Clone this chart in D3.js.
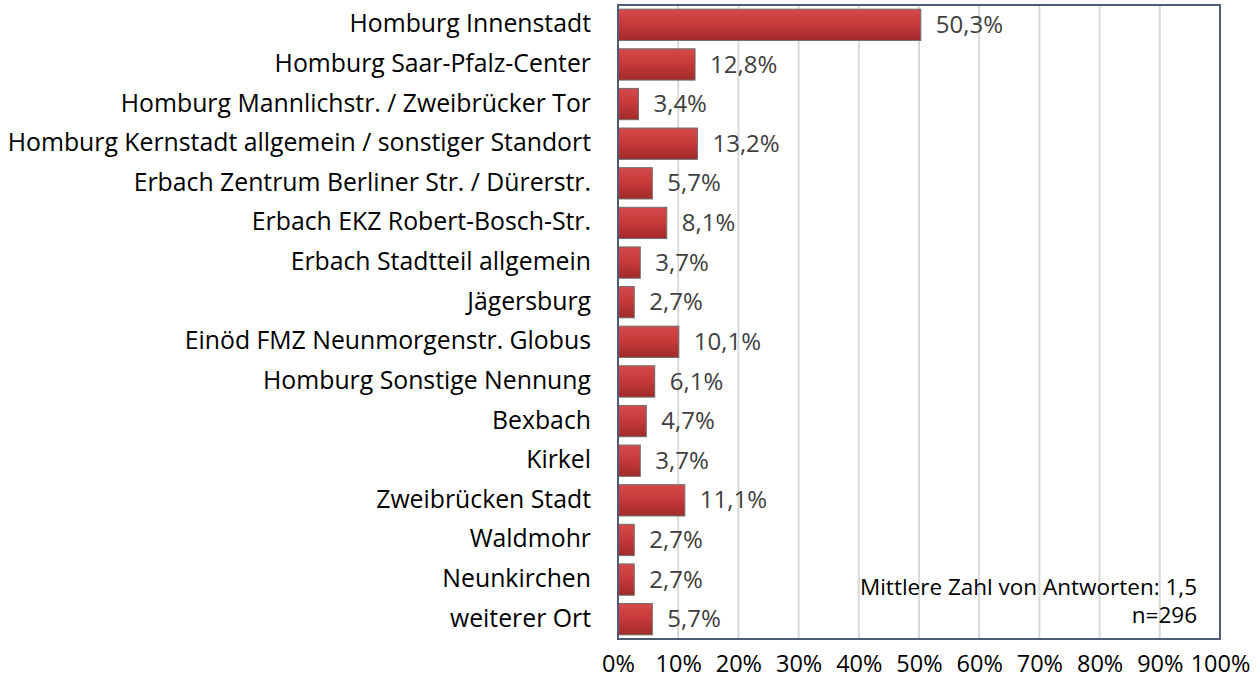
<!DOCTYPE html>
<html>
<head>
<meta charset="utf-8">
<script src="https://cdn.jsdelivr.net/npm/d3@7"></script>
<style>
  html, body { margin: 0; padding: 0; background: #fff; }
  svg { display: block; }
  text { font-family: "Open Sans", "Lato", sans-serif; }
</style>
</head>
<body>
<svg id="chart" width="1258" height="686"></svg>
<script>
const categories = [
  "Homburg Innenstadt",
  "Homburg Saar-Pfalz-Center",
  "Homburg Mannlichstr. / Zweibrücker Tor",
  "Homburg Kernstadt allgemein / sonstiger Standort",
  "Erbach Zentrum Berliner Str. / Dürerstr.",
  "Erbach EKZ Robert-Bosch-Str.",
  "Erbach Stadtteil allgemein",
  "Jägersburg",
  "Einöd FMZ Neunmorgenstr. Globus",
  "Homburg Sonstige Nennung",
  "Bexbach",
  "Kirkel",
  "Zweibrücken Stadt",
  "Waldmohr",
  "Neunkirchen",
  "weiterer Ort"
];
const values = [50.3, 12.8, 3.4, 13.2, 5.7, 8.1, 3.7, 2.7, 10.1, 6.1, 4.7, 3.7, 11.1, 2.7, 2.7, 5.7];
const xTicks = [0, 10, 20, 30, 40, 50, 60, 70, 80, 90, 100];
const noteLines = ["Mittlere Zahl von Antworten: 1,5", "n=296"];

const svg = d3.select("#chart");
const plot = { left: 618, right: 1220, top: 5, bottom: 639 };

const x = d3.scaleLinear().domain([0, 100]).range([plot.left, plot.right]);
const y = d3.scaleBand().domain(categories).range([plot.top, plot.bottom]).paddingInner(0.21).paddingOuter(0.105);

const fmt = v => d3.format(".1f")(v).replace(".", ",") + "%";

const defs = svg.append("defs");
const grad = defs.append("linearGradient").attr("id", "barFill").attr("x1", 0).attr("y1", 0).attr("x2", 0).attr("y2", 1);
grad.append("stop").attr("offset", "0%").attr("stop-color", "#d44a4a");
grad.append("stop").attr("offset", "45%").attr("stop-color", "#c83a3a");
grad.append("stop").attr("offset", "100%").attr("stop-color", "#a12a2a");

// vertical gridlines
svg.append("g")
  .selectAll("line")
  .data(xTicks.slice(1, -1))
  .join("line")
  .attr("x1", d => x(d)).attr("x2", d => x(d))
  .attr("y1", plot.top).attr("y2", plot.bottom)
  .attr("stroke", "#d9d9d9").attr("stroke-width", 2);

// bars
svg.append("g")
  .selectAll("rect")
  .data(values)
  .join("rect")
  .attr("x", x(0))
  .attr("y", (d, i) => y(categories[i]))
  .attr("width", d => x(d) - x(0))
  .attr("height", y.bandwidth())
  .attr("fill", "url(#barFill)")
  .attr("stroke", "#6e6e6e")
  .attr("stroke-width", 1);

// value labels
svg.append("g")
  .selectAll("text")
  .data(values)
  .join("text")
  .attr("x", d => x(d) + 15)
  .attr("y", (d, i) => y(categories[i]) + y.bandwidth() / 2)
  .attr("dy", "0.34em")
  .attr("font-size", 24)
  .attr("fill", "#404040")
  .text(d => fmt(d));

// category labels
svg.append("g")
  .selectAll("text")
  .data(categories)
  .join("text")
  .attr("x", plot.left - 27)
  .attr("y", d => y(d) + y.bandwidth() / 2)
  .attr("dy", "0.3em")
  .attr("text-anchor", "end")
  .attr("font-size", 24.8)
  .attr("fill", "#000")
  .text(d => d);

// plot frame
svg.append("rect")
  .attr("x", plot.left).attr("y", plot.top)
  .attr("width", plot.right - plot.left).attr("height", plot.bottom - plot.top)
  .attr("fill", "none").attr("stroke", "#4d5d78").attr("stroke-width", 2);

// x axis tick labels
const xAxis = d3.axisBottom(x).tickValues(xTicks).tickFormat(d => d + "%").tickSize(0).tickPadding(0);
const gx = svg.append("g").attr("transform", `translate(0, 664)`).call(xAxis);
gx.select(".domain").remove();
gx.selectAll("text").attr("font-size", 23.5).attr("fill", "#000").attr("dy", "0.36em").attr("y", 0)
  .style("font-family", "'Open Sans', Lato, sans-serif");

// annotation
svg.append("g")
  .selectAll("text")
  .data(noteLines)
  .join("text")
  .attr("x", 1197)
  .attr("y", (d, i) => 595 + i * 28)
  .attr("text-anchor", "end")
  .attr("font-size", 22.5)
  .attr("fill", "#000")
  .text(d => d);
</script>
</body>
</html>
